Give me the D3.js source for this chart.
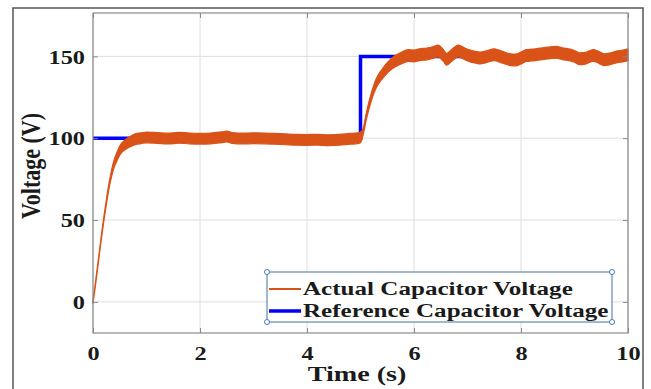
<!DOCTYPE html>
<html><head><meta charset="utf-8">
<script src="https://cdn.jsdelivr.net/npm/d3@7"></script>
<style>body{margin:0;background:#fff}svg{display:block}text{font-family:"Liberation Serif","Times New Roman",serif;font-weight:bold;fill:#1a1a1a}</style>
</head><body><svg id="c" width="651" height="389"></svg>
<script>
// ---- data ----
const xTicks = [0, 2, 4, 6, 8, 10];
const yTicks = [0, 50, 100, 150];
const seriesNames = ["Actual Capacitor Voltage", "Reference Capacitor Voltage"];

const refTime  = [0, 5, 5, 10];
const refValue = [100, 100, 150, 150];

const actualTime = [0,0.05,0.1,0.15,0.2,0.25,0.3,0.35,0.4,0.45,0.5,0.6,0.7,0.8,0.9,1.0,1.2,1.4,1.6,1.8,2.0,2.2,2.4,2.5,2.6,2.8,3.0,3.2,3.4,3.6,3.8,4.0,4.2,4.4,4.6,4.8,4.95,5.0,5.05,5.1,5.15,5.2,5.25,5.3,5.4,5.5,5.6,5.7,5.8,5.9,6.0,6.1,6.24,6.35,6.45,6.55,6.61,6.7,6.83,6.95,7.05,7.15,7.24,7.35,7.5,7.65,7.8,7.9,8.0,8.1,8.2,8.35,8.5,8.65,8.8,8.92,9.0,9.1,9.2,9.35,9.45,9.55,9.65,9.8,9.9,10];
const actualValue = [0,12,25,38,50,61,71,79,85,89,92.5,96,98,99.5,100,100.5,100.2,99.8,100.3,99.9,99.7,99.9,100.6,101,100.2,99.8,100,99.9,99.6,99.3,99,98.9,99.1,98.8,99,99.6,100,100.5,104,112,119,125,130,134,139,143,146,148,149.5,150.5,150.3,151,151.5,152.3,153.3,150.5,148.2,150.5,153.3,151.5,150.2,149.5,149,149.8,151,149.5,148,147.8,149,150.5,150.8,151.4,152,152.5,151.5,150.8,150,148.5,148.8,150.6,149.5,148,148.4,149.8,150.2,151];
const noiseHalfWidth = [0.8,1,1.1,1.2,1.3,1.5,1.7,2,2.3,2.6,2.8,3,3.2,3.3,3.3,3.3,3.3,3.3,3.3,3.3,3.3,3.3,3.3,3.3,3.3,3.3,3.3,3.3,3.3,3.3,3.3,3.3,3.3,3.3,3.3,3.3,3.3,3.3,2,2,2.2,2.4,2.6,2.8,3,3.2,3.4,3.5,3.6,3.6,3.6,3.6,3.6,3.6,3.6,3.6,3.6,3.6,3.6,3.6,3.6,3.6,3.6,3.6,3.6,3.6,3.6,3.6,3.6,3.6,3.6,3.6,3.6,3.6,3.6,3.6,3.6,3.6,3.6,3.6,3.6,3.6,3.6,3.6,3.6,3.6];

// ---- drawing ----
const svg = d3.select("#c");
const L = 93, R = 628, T = 13, B = 333;
const SX = 1.28; // horizontal stretch of the reference's lettering
const x = d3.scaleLinear().domain([0, 10]).range([L, R]);
const y = d3.scaleLinear().domain([-19, 176.5]).range([B, T]);
const orange = "#D95319", blue = "#0000FF";

svg.append("rect").attr("width", 651).attr("height", 389).attr("fill", "#fff");
svg.append("rect").attr("x", 13).attr("y", 8).attr("width", 630).attr("height", 400)
  .attr("fill", "none").attr("stroke", "#555").attr("stroke-width", 1.5);

// grid
const g = svg.append("g");
g.selectAll(".gx").data(xTicks).join("line")
  .attr("x1", d => x(d)).attr("x2", d => x(d)).attr("y1", T).attr("y2", B)
  .attr("stroke", "#dedede").attr("stroke-width", 1);
g.selectAll(".gy").data(yTicks).join("line")
  .attr("x1", L).attr("x2", R).attr("y1", d => y(d)).attr("y2", d => y(d))
  .attr("stroke", "#dedede").attr("stroke-width", 1);

// reference line
const refData = refTime.map((t, i) => [t, refValue[i]]);
svg.append("path").datum(refData)
  .attr("d", d3.line().x(d => x(d[0])).y(d => y(d[1])))
  .attr("fill", "none").attr("stroke", blue).attr("stroke-width", 3.5);

// actual voltage (noisy band)
const act = actualTime.map((t, i) => ({t, v: actualValue[i], n: noiseHalfWidth[i]}));
svg.append("path").datum(act)
  .attr("d", d3.area().x(d => x(d.t)).y0(d => y(d.v - d.n)).y1(d => y(d.v + d.n)).curve(d3.curveMonotoneX))
  .attr("fill", orange).attr("stroke", orange).attr("stroke-width", 1.2).attr("stroke-linejoin", "round");

// axes (box with inward ticks)
const axCol = "#8a8a8a";
const axB = svg.append("g").attr("transform", `translate(0,${B})`)
  .call(d3.axisBottom(x).tickValues(xTicks).tickSizeInner(-5).tickSizeOuter(0).tickFormat(d3.format("d")));
const axT = svg.append("g").attr("transform", `translate(0,${T})`)
  .call(d3.axisTop(x).tickValues(xTicks).tickSizeInner(-5).tickSizeOuter(0).tickFormat(""));
const axL = svg.append("g").attr("transform", `translate(${L},0)`)
  .call(d3.axisLeft(y).tickValues(yTicks).tickSizeInner(-5).tickSizeOuter(0).tickFormat(d3.format("d")));
const axR = svg.append("g").attr("transform", `translate(${R},0)`)
  .call(d3.axisRight(y).tickValues(yTicks).tickSizeInner(-5).tickSizeOuter(0).tickFormat(""));
[axB, axT, axL, axR].forEach(a => {
  a.select(".domain").remove();
  a.selectAll("line").attr("stroke", axCol);
  a.selectAll("text").attr("font-family", null).attr("font-size", null);
});
svg.append("rect").attr("x", L).attr("y", T).attr("width", R - L).attr("height", B - T)
  .attr("fill", "none").attr("stroke", axCol).attr("stroke-width", 1.2);
axB.selectAll("text").attr("dy", null).attr("y", 0).attr("transform", `translate(0,27) scale(${SX},1)`).style("font-size", "19px");
axL.selectAll("text").attr("dy", "0.35em").attr("x", 0).attr("transform", `translate(-8,0) scale(${SX},1)`).style("font-size", "19px");

// axis titles
svg.append("text").attr("transform", `translate(357,381) scale(${SX},1)`).attr("text-anchor", "middle")
  .style("font-size", "22px").text("Time (s)");
svg.append("text").attr("transform", `translate(40,166) scale(${SX},1) rotate(-90)`).attr("text-anchor", "middle")
  .style("font-size", "22px").text("Voltage (V)");

// legend
const lg = svg.append("g");
const lx0 = 267, ly0 = 272, lw = 345, lh = 50;
lg.append("rect").attr("x", lx0).attr("y", ly0).attr("width", lw).attr("height", lh)
  .attr("fill", "#fff").attr("stroke", "#6a86b0").attr("stroke-width", 1.2);
const items = [{name: seriesNames[0], color: orange, w: 2}, {name: seriesNames[1], color: blue, w: 3.5}];
items.forEach((it, i) => {
  const yy = ly0 + 17 + i * 22;
  lg.append("line").attr("x1", lx0 + 2).attr("x2", lx0 + 34).attr("y1", yy).attr("y2", yy)
    .attr("stroke", it.color).attr("stroke-width", it.w);
  lg.append("text").attr("transform", `translate(${lx0 + 36},${yy}) scale(${SX},1)`).attr("dy", "0.33em")
    .style("font-size", "19.6px").text(it.name);
});
[[lx0, ly0], [lx0 + lw, ly0], [lx0, ly0 + lh], [lx0 + lw, ly0 + lh]].forEach(p => {
  lg.append("circle").attr("cx", p[0]).attr("cy", p[1]).attr("r", 2.5)
    .attr("fill", "#fff").attr("stroke", "#4a78c0").attr("stroke-width", 1);
});
</script></body></html>
